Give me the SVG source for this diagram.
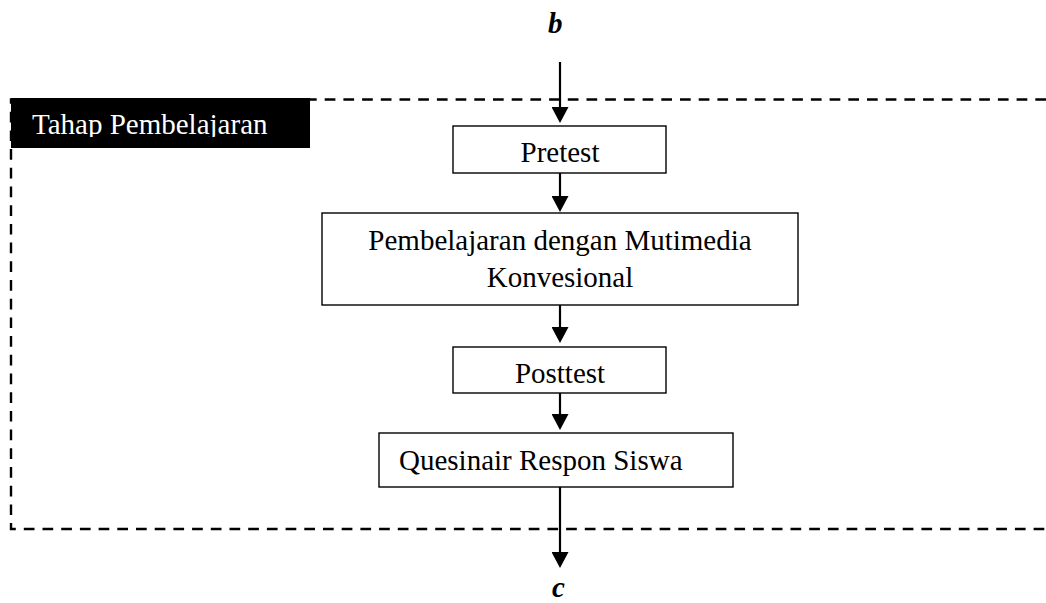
<svg xmlns="http://www.w3.org/2000/svg" width="1046" height="603" viewBox="0 0 1046 603">
  <style>
    .txt { font-family: "Liberation Serif", "Times New Roman", serif; font-size: 29px; fill: #000; }
    .var { font-family: "Liberation Serif", "Times New Roman", serif; font-size: 29px; font-weight: bold; font-style: italic; fill: #000; }
    .box { fill: #fff; stroke: #000; stroke-width: 1.4; }
    .frame { fill: none; stroke: #000; stroke-width: 2.4; stroke-dasharray: 10.7 8; }
    .link { stroke: #000; stroke-width: 2.2; fill: none; marker-end: url(#arrow); }
  </style>
  <defs>
    <marker id="arrow" markerUnits="userSpaceOnUse" markerWidth="17" markerHeight="17" viewBox="0 0 16 17" refX="6" refY="8.5" orient="auto">
      <path d="M0,0 L16,8.5 L0,17 z" fill="#000"/>
    </marker>
    <clipPath id="labelClip">
      <rect x="11" y="98" width="299" height="39"/>
    </clipPath>
  </defs>

  <rect width="1046" height="603" fill="#fff"/>

  <!-- dashed stage frame, open to the right -->
  <g id="stage-frame">
    <path class="frame" d="M1046,99.5 H11 V529 H1046"/>
  </g>

  <!-- stage title tab -->
  <g id="stage-label">
    <rect x="11" y="98" width="299" height="50" fill="#000"/>
    <text class="txt" x="32" y="134" style="fill:#fff" clip-path="url(#labelClip)">Tahap Pembelajaran</text>
  </g>

  <!-- connectors -->
  <g id="connectors">
    <line class="link" x1="560" y1="62" x2="560" y2="113"/>
    <line class="link" x1="560" y1="173" x2="560" y2="202"/>
    <line class="link" x1="560" y1="305" x2="560" y2="333"/>
    <line class="link" x1="560" y1="393" x2="560" y2="420"/>
    <line class="link" x1="560" y1="487" x2="560" y2="558"/>
  </g>

  <g id="in-b">
    <text class="var" x="548" y="33">b</text>
  </g>

  <g id="pretest">
    <rect class="box" x="453" y="126" width="213" height="47"/>
    <text class="txt" x="560" y="162" text-anchor="middle">Pretest</text>
  </g>

  <g id="pembelajaran">
    <rect class="box" x="322" y="213" width="476" height="92"/>
    <text class="txt" x="560" y="250" text-anchor="middle">Pembelajaran dengan Mutimedia</text>
    <text class="txt" x="560" y="287" text-anchor="middle">Konvesional</text>
  </g>

  <g id="posttest">
    <rect class="box" x="453" y="347" width="213" height="46"/>
    <text class="txt" x="560" y="383" text-anchor="middle">Posttest</text>
  </g>

  <g id="quesinair">
    <rect class="box" x="379" y="433" width="354" height="54"/>
    <text class="txt" x="399" y="470">Quesinair Respon Siswa</text>
  </g>

  <g id="out-c">
    <text class="var" x="552" y="597">c</text>
  </g>
</svg>
